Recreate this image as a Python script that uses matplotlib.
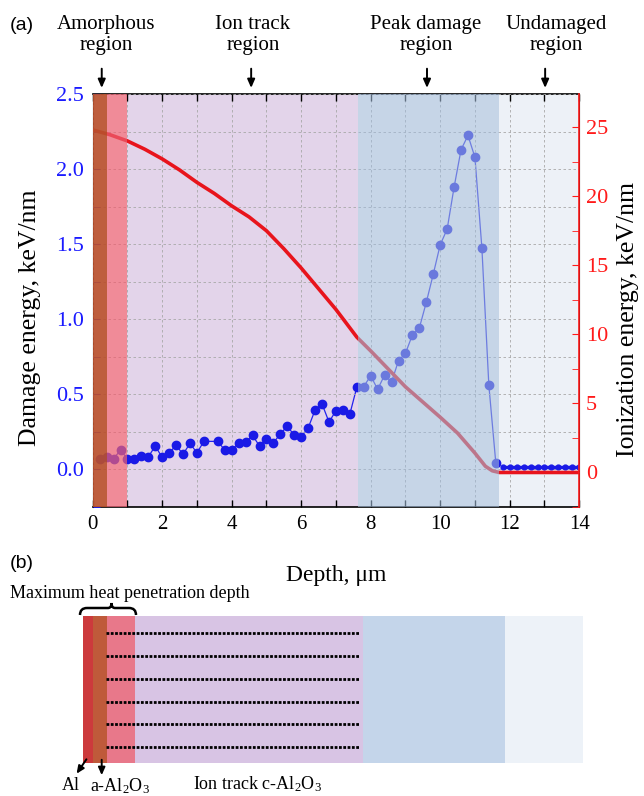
import matplotlib.pyplot as plt
from matplotlib.path import Path
from matplotlib.patches import PathPatch, Rectangle
from matplotlib.ticker import MultipleLocator

plt.rcParams['font.family'] = ['Liberation Serif', 'DejaVu Serif']
plt.rcParams['mathtext.default'] = 'regular'

# damage energy (left axis, keV/nm)
damage_depth = [0.2, 0.4, 0.6, 0.8, 1.0, 1.2, 1.4, 1.6, 1.8, 2.0, 2.2, 2.4, 2.6, 2.8, 3.0, 3.2,
                3.6, 3.8, 4.0, 4.2, 4.4, 4.6, 4.8, 5.0, 5.2, 5.4, 5.6, 5.8, 6.0, 6.2, 6.4, 6.6,
                6.8, 7.0, 7.2, 7.4, 7.6, 7.8, 8.0, 8.2, 8.4, 8.6, 8.8, 9.0, 9.2, 9.4, 9.6, 9.8,
                10.0, 10.2, 10.4, 10.6, 10.8, 11.0, 11.2, 11.4, 11.6]
damage = [0.067, 0.084, 0.071, 0.129, 0.071, 0.071, 0.089, 0.084, 0.156, 0.080, 0.111, 0.160,
          0.102, 0.173, 0.111, 0.187, 0.187, 0.129, 0.129, 0.178, 0.182, 0.227, 0.156, 0.204,
          0.178, 0.236, 0.289, 0.227, 0.218, 0.276, 0.396, 0.436, 0.316, 0.391, 0.396, 0.369,
          0.547, 0.552, 0.624, 0.533, 0.629, 0.582, 0.724, 0.773, 0.896, 0.942, 1.113, 1.300,
          1.496, 1.600, 1.880, 2.129, 2.224, 2.078, 1.473, 0.560, 0.044]
tail_depth = [11.8, 12.0, 12.2, 12.4, 12.6, 12.8, 13.0, 13.2, 13.4, 13.6, 13.8, 14.0]
tail_damage = [0.017, 0.017, 0.017, 0.017, 0.017, 0.017, 0.017, 0.017, 0.017, 0.017, 0.017, 0.017]

# ionization energy (right axis, keV/nm)
ion_depth = [0, 0.5, 1, 1.5, 2, 2.5, 3, 3.5, 4, 4.5, 5, 5.5, 6, 6.5, 7, 7.6, 8, 8.5, 9, 9.5,
             10, 10.5, 11, 11.3, 11.5, 11.7, 14]
ionization = [24.8, 24.45, 24.0, 23.4, 22.7, 21.9, 21.0, 20.2, 19.3, 18.5, 17.5, 16.2, 14.8,
              13.3, 11.8, 9.8, 8.8, 7.5, 6.2, 5.1, 4.0, 2.85, 1.4, 0.45, 0.12, 0.0, 0.0]

# region boundaries (depth, um)
amorph_edges = [0, 0.4, 1.0]
track_end = 7.64
peak_end = 11.7
region_labels = ['Amorphous\nregion', 'Ion track\nregion', 'Peak damage\nregion', 'Undamaged\nregion']

fig = plt.figure(figsize=(6.44, 7.96), dpi=100)
ax = fig.add_axes([92.7 / 644, 1 - 507 / 796, 486.5 / 644, 413 / 796])
ax2 = ax.twinx()

# background regions (behind the data)
ax.axvspan(amorph_edges[2], track_end, color='#e3d4ea', lw=0, zorder=0)
ax.axvspan(peak_end, 14, color='#edf1f7', lw=0, zorder=0)

ax.plot(damage_depth, damage, '-', color='#2222ee', lw=0.9, zorder=2)
ax.plot(damage_depth, damage, 'o', color='#1a1ae6', ms=6, zorder=3)
ax.plot(tail_depth, tail_damage, 'o-', color='#1a1ae6', ms=3.5, lw=2.5, zorder=3)

ax2.plot(ion_depth, ionization, '-', color='#e8141c', lw=2.6, zorder=2)

# translucent regions on top of the data
ax2.axvspan(amorph_edges[0], amorph_edges[1], color=(185 / 255, 80 / 255, 45 / 255), alpha=0.92, lw=0, zorder=5)
ax2.axvspan(amorph_edges[1], amorph_edges[2], color=(235 / 255, 95 / 255, 112 / 255), alpha=0.72, lw=0, zorder=5)
ax2.axvspan(track_end, peak_end, color=(160 / 255, 185 / 255, 215 / 255), alpha=0.6, lw=0, zorder=5)

ax.set_xlim(0, 14)
ax2.set_ylim(-2.5, 27.4)

ax.xaxis.set_major_locator(MultipleLocator(2))
ax.xaxis.set_minor_locator(MultipleLocator(1))
ax.yaxis.set_major_locator(MultipleLocator(0.5))
ax.yaxis.set_minor_locator(MultipleLocator(0.25))
ax2.yaxis.set_major_locator(MultipleLocator(5))
ax2.yaxis.set_minor_locator(MultipleLocator(2.5))
ax.yaxis.set_major_formatter('{x:.1f}')
ax.set_ylim(-0.25, 2.5)

ax.grid(which='both', color='#a8a8a8', ls=(0, (3, 3)), lw=0.6, zorder=1)
ax.set_axisbelow(False)

ax.tick_params(axis='x', which='both', direction='in', top=True, length=5, width=1,
               labelsize=15, pad=6)
ax.tick_params(axis='y', which='both', direction='in', colors='#1a1aff', length=5,
               labelsize=16, pad=6)
ax2.tick_params(axis='y', which='both', direction='in', colors='#ff1a1a', length=5,
                labelsize=16, pad=5)

for s in ['top', 'bottom']:
    ax.spines[s].set_linewidth(1.2)
ax2.spines['right'].set_color('#ff1a1a')
ax2.spines['right'].set_linewidth(1.2)
ax2.spines['left'].set_visible(False)
ax2.spines['top'].set_visible(False)
ax2.spines['bottom'].set_visible(False)

ax.set_xlabel('Depth, \u03bcm', fontsize=17, labelpad=22)
ax.set_ylabel('Damage energy, keV/nm', fontsize=18.5)
ax2.set_ylabel('Ionization energy, keV/nm', fontsize=18.5)
ax.yaxis.set_label_coords(-0.106, 0.458)
ax2.yaxis.set_label_coords(1.078, 0.453)

# region labels with arrows above the plot
label_x = [0.38, 4.61, 9.59, 13.33]
arrow_x = [0.26, 4.56, 9.62, 13.02]
for lab, lx, axx in zip(region_labels, label_x, arrow_x):
    ax.annotate('', xy=(axx, 1.008), xycoords=('data', 'axes fraction'),
                xytext=(axx, 1.068), textcoords=('data', 'axes fraction'),
                arrowprops=dict(arrowstyle='-|>,head_width=0.22,head_length=0.5',
                                color='black', lw=1.4), annotation_clip=False)
    ax.text(lx, 1.142, lab, transform=ax.get_xaxis_transform(), ha='center', va='center',
            fontsize=15, linespacing=1.15)

fig.text(10 / 644, 1 - 25 / 796, '(a)', family='Liberation Sans', fontsize=14, va='center')
fig.text(10 / 644, 1 - 563 / 796, '(b)', family='Liberation Sans', fontsize=14, va='center')

# panel (b): schematic of the layers, drawn in pixel coordinates
pax = fig.add_axes([0, 0, 1, 1])
pax.set_xlim(0, 644)
pax.set_ylim(796, 0)
pax.axis('off')
pax.set_zorder(-1)

layer_edges = [82.7, 93.3, 106.7, 135, 363.3, 504.7, 583]
layer_colors = ['#cc3a3c', '#bf5a3a', '#e8788a', '#d8c4e4', '#c4d5ea', '#edf2f8']
for x0, x1, c in zip(layer_edges[:-1], layer_edges[1:], layer_colors):
    pax.add_patch(Rectangle((x0, 616), x1 - x0, 147, color=c, lw=0))

for yy in [633.3, 656.3, 679.3, 702, 724.3, 746.7]:
    pax.plot([106.5, 360], [yy, yy], color='black', lw=2.0, ls=(0, (1, 0.55)), solid_capstyle='butt')

# curly brace over the heated layers
verts = [(80, 615), (80, 608), (87, 608), (108, 608), (111.5, 608), (111.5, 603),
         (111.5, 608), (115, 608), (129, 608), (136, 608), (136, 615)]
codes = [Path.MOVETO, Path.CURVE3, Path.CURVE3, Path.LINETO, Path.CURVE3, Path.CURVE3,
         Path.CURVE3, Path.CURVE3, Path.LINETO, Path.CURVE3, Path.CURVE3]
pax.add_patch(PathPatch(Path(verts, codes), fill=False, lw=1.8, color='black'))
pax.text(10, 593, 'Maximum heat penetration depth', fontsize=13, va='center')

pax.annotate('', xy=(75, 776), xytext=(88, 757),
             arrowprops=dict(arrowstyle='-|>,head_width=0.2,head_length=0.45', color='black', lw=1.4))
pax.annotate('', xy=(101.7, 778), xytext=(101.7, 757),
             arrowprops=dict(arrowstyle='-|>,head_width=0.2,head_length=0.45', color='black', lw=1.4))
pax.text(71, 786, 'Al', fontsize=13, ha='center', va='center')
pax.text(90, 786, 'a-Al$_2$O$_3$', fontsize=13, va='center')
pax.text(193, 784, 'Ion track c-Al$_2$O$_3$', fontsize=13, va='center')

fig.savefig('out.png', dpi=100)
